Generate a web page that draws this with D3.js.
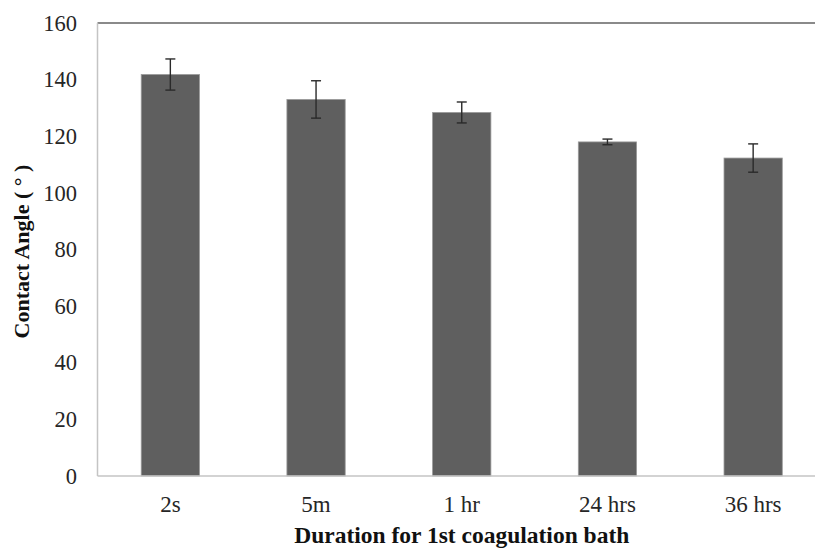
<!DOCTYPE html>
<html>
<head>
<meta charset="utf-8">
<script src="https://cdn.jsdelivr.net/npm/d3@7/dist/d3.min.js"></script>
<style>
  html, body { margin: 0; padding: 0; background: #fff; }
  svg { display: block; }
  svg text { font-family: "Liberation Serif", "Times New Roman", serif !important; }
</style>
</head>
<body>
<svg id="chart" width="815" height="549"></svg>
<script>
// Contact angle after different durations in the first coagulation bath
const categories = ["2s", "5m", "1 hr", "24 hrs", "36 hrs"];
const angles = [141.8, 133.0, 128.4, 118.0, 112.3];
const errors = [5.5, 6.6, 3.7, 1.0, 5.0];
const yTicks = [0, 20, 40, 60, 80, 100, 120, 140, 160];

const serif = '"Liberation Serif", "Times New Roman", serif';
const svg = d3.select("#chart");
const margin = { left: 97.5, top: 23, right: -11, bottom: 73 };
const W = 815, H = 549;
const x0 = margin.left, x1 = W - margin.right;
const yTop = margin.top, yBot = H - margin.bottom;

const x = d3.scaleBand().domain(categories).range([x0, x1]).paddingInner(0.6).paddingOuter(0.3);
const y = d3.scaleLinear().domain([0, 160]).range([yBot, yTop]);

// plot frame
svg.append("line").attr("x1", x0).attr("x2", x1).attr("y1", yTop).attr("y2", yTop)
  .attr("stroke", "#8a8a8a").attr("stroke-width", 2);
svg.append("line").attr("x1", x0).attr("x2", x0).attr("y1", yTop).attr("y2", yBot)
  .attr("stroke", "#c4c4c4").attr("stroke-width", 1.5);

// bars
svg.append("g").selectAll("rect").data(categories).join("rect")
  .attr("x", d => x(d))
  .attr("width", x.bandwidth())
  .attr("y", (d, i) => y(angles[i]))
  .attr("height", (d, i) => y(0) - y(angles[i]))
  .attr("fill", "#5f5f5f")
  .attr("stroke", "#9a9a9a")
  .attr("stroke-width", 0.8);

// x axis baseline
svg.append("line").attr("x1", x0).attr("x2", x1).attr("y1", yBot).attr("y2", yBot)
  .attr("stroke", "#c4c4c4").attr("stroke-width", 1.5);

// error bars
const eb = svg.append("g").attr("stroke", "#2a2a2a").attr("stroke-width", 1.4);
categories.forEach((c, i) => {
  const cx = x(c) + x.bandwidth() / 2;
  const hi = y(angles[i] + errors[i]), lo = y(angles[i] - errors[i]);
  eb.append("line").attr("x1", cx).attr("x2", cx).attr("y1", hi).attr("y2", lo);
  eb.append("line").attr("x1", cx - 5).attr("x2", cx + 5).attr("y1", hi).attr("y2", hi);
  eb.append("line").attr("x1", cx - 5).attr("x2", cx + 5).attr("y1", lo).attr("y2", lo);
});

// y axis labels
const yAxis = d3.axisLeft(y).tickValues(yTicks).tickSize(0).tickPadding(20.5);
const gy = svg.append("g").attr("transform", `translate(${x0},0)`).call(yAxis)
  .attr("font-family", serif);
gy.select(".domain").remove();
gy.selectAll("text").style("font-family", serif).attr("font-size", 22.5).attr("fill", "#262626");

// x axis labels
const xAxis = d3.axisBottom(x).tickSize(0).tickPadding(20);
const gx = svg.append("g").attr("transform", `translate(0,${yBot})`).call(xAxis)
  .attr("font-family", serif);
gx.select(".domain").remove();
gx.selectAll("text").style("font-family", serif).attr("font-size", 23).attr("fill", "#262626");

// axis titles
svg.append("text")
  .attr("x", (x0 + x1) / 2).attr("y", 542.5)
  .attr("text-anchor", "middle")
  .style("font-family", serif)
  .attr("font-size", 23.5).attr("font-weight", "bold").attr("fill", "#111")
  .text("Duration for 1st coagulation bath");

svg.append("text")
  .attr("transform", `translate(29,${(yTop + yBot) / 2 + 2}) rotate(-90)`)
  .attr("text-anchor", "middle")
  .style("font-family", serif)
  .attr("font-size", 22).attr("font-weight", "bold").attr("fill", "#111")
  .text("Contact Angle ( ° )");
</script>
</body>
</html>
